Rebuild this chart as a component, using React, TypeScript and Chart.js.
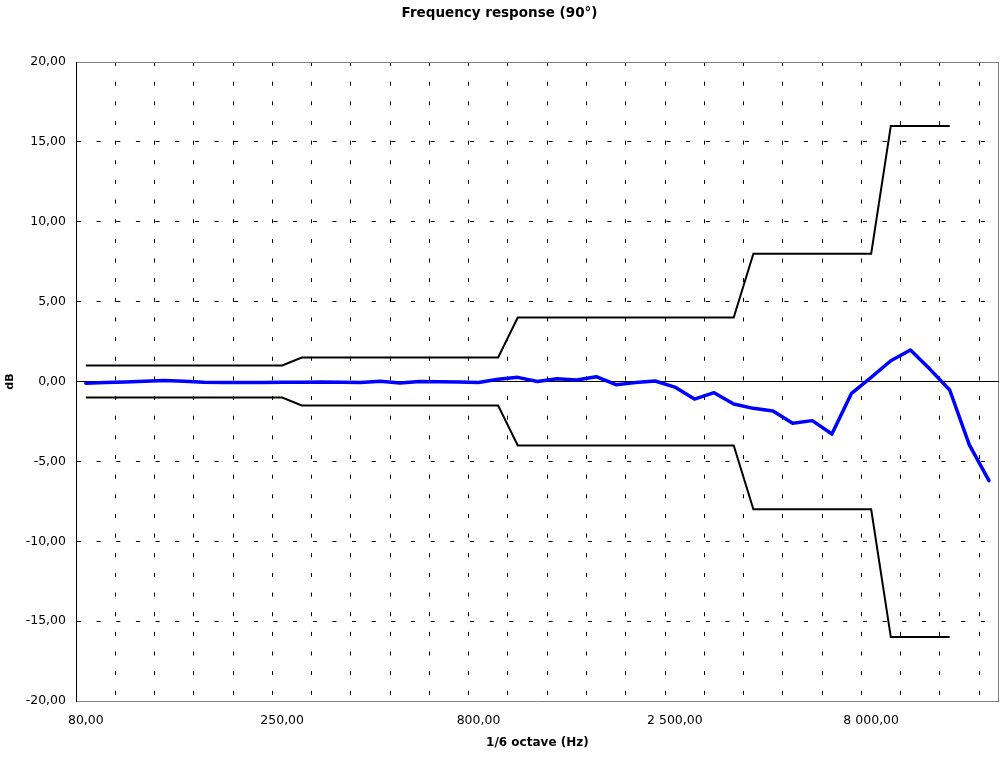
import React, { useEffect, useRef } from "react";
import { Chart, registerables } from "chart.js";

Chart.register(...registerables);

// 1/6 octave centre frequencies (Hz)
const FREQUENCIES = [
  80, 90, 100, 112, 125, 140, 160, 180, 200, 224,
  250, 280, 315, 355, 400, 450, 500, 560, 630, 710,
  800, 900, 1000, 1120, 1250, 1400, 1600, 1800, 2000, 2240,
  2500, 2800, 3150, 3550, 4000, 4500, 5000, 5600, 6300, 7100,
  8000, 9000, 10000, 11200, 12500, 14000, 16000,
];

// measured response (dB)
const MEASURED_DB = [
  -0.11, -0.07, -0.03, 0.01, 0.07, 0.02, -0.04, -0.06, -0.07, -0.07,
  -0.05, -0.05, -0.03, -0.04, -0.07, 0.02, -0.1, 0.0, -0.02, -0.03,
  -0.06, 0.14, 0.26, 0.0, 0.17, 0.1, 0.3, -0.2, -0.07, 0.03,
  -0.35, -1.1, -0.7, -1.41, -1.68, -1.85, -2.62, -2.45, -3.29, -0.74,
  0.26, 1.3, 1.97, 0.76, -0.53, -3.97, -6.21,
];

// tolerance limits (dB)
const UPPER_LIMIT_DB = [
  1, 1, 1, 1, 1, 1, 1, 1, 1, 1,
  1, 1.5, 1.5, 1.5, 1.5, 1.5, 1.5, 1.5, 1.5, 1.5,
  1.5, 1.5, 4, 4, 4, 4, 4, 4, 4, 4,
  4, 4, 4, 4, 8, 8, 8, 8, 8, 8,
  8, 16, 16, 16, 16, null, null,
];
const LOWER_LIMIT_DB = [
  -1, -1, -1, -1, -1, -1, -1, -1, -1, -1,
  -1, -1.5, -1.5, -1.5, -1.5, -1.5, -1.5, -1.5, -1.5, -1.5,
  -1.5, -1.5, -4, -4, -4, -4, -4, -4, -4, -4,
  -4, -4, -4, -4, -8, -8, -8, -8, -8, -8,
  -8, -16, -16, -16, -16, null, null,
];

const Y_MIN = -20;
const Y_MAX = 20;
const Y_STEP = 5;
const X_LABEL_EVERY = 10;
const X_GRID_EVERY = 2;

const TITLE = "Frequency response (90°)";
const X_TITLE = "1/6 octave (Hz)";
const Y_TITLE = "dB";

function fmt(v: number): string {
  const neg = v < 0 && Math.abs(v) > 1e-9;
  const [intPart, dec] = Math.abs(v).toFixed(2).split(".");
  const grouped = intPart.replace(/\B(?=(\d{3})+(?!\d))/g, " ");
  return (neg ? "-" : "") + grouped + "," + dec;
}

const FONT = "'DejaVu Sans', 'Liberation Sans', Arial, sans-serif";
const DASH = [4, 15.65];

export default function App() {
  const canvasRef = useRef<HTMLCanvasElement | null>(null);

  useEffect(() => {
    const canvas = canvasRef.current;
    if (!canvas) return;
    const chart = new Chart(canvas, {
      type: "line",
      data: {
        labels: FREQUENCIES.map((f) => String(f)),
        datasets: [
          {
            label: "Measured",
            data: MEASURED_DB,
            borderColor: "rgb(0,0,255)",
            borderWidth: 3.5,
            pointRadius: 0,
            tension: 0,
            borderJoinStyle: "round",
            borderCapStyle: "round",
          },
          {
            label: "Upper limit",
            data: UPPER_LIMIT_DB,
            borderColor: "#000000",
            borderWidth: 2,
            pointRadius: 0,
            tension: 0,
            spanGaps: false,
          },
          {
            label: "Lower limit",
            data: LOWER_LIMIT_DB,
            borderColor: "#000000",
            borderWidth: 2,
            pointRadius: 0,
            tension: 0,
            spanGaps: false,
          },
        ],
      },
      options: {
        responsive: false,
        animation: false,
        devicePixelRatio: 1,
        layout: { padding: { left: 0, right: 2, top: 0, bottom: 0 } },
        plugins: {
          legend: { display: false },
          tooltip: { enabled: false },
          title: {
            display: true,
            text: TITLE,
            color: "#000",
            font: { family: FONT, size: 13.5, weight: "bold" },
            padding: { top: 5, bottom: 40.8 },
          },
        },
        scales: {
          x: {
            type: "category",
            offset: true,
            grid: {
              offset: true,
              drawTicks: false,
              lineWidth: 1,
              color: (ctx: any) => {
                if (ctx.index === undefined) return "#808080";
                if (ctx.index > 0 && ctx.index % X_GRID_EVERY === 0) return "#000000";
                return "rgba(0,0,0,0)";
              },
            },
            border: {
              display: true,
              color: "#808080",
              width: 1,
              dash: (ctx: any) => (ctx.index === undefined ? [] : DASH),
            },
            ticks: {
              autoSkip: false,
              maxRotation: 0,
              minRotation: 0,
              padding: 12,
              color: "#000",
              font: { family: FONT, size: 12.5 },
              callback: (_v: any, index: number) =>
                index % X_LABEL_EVERY === 0 ? fmt(FREQUENCIES[index]) : "",
            },
            title: {
              display: true,
              text: X_TITLE,
              color: "#000",
              font: { family: FONT, size: 12, weight: "bold" },
              padding: { top: 0, bottom: 8 },
            },
            afterFit: (scale: any) => {
              scale.height = 57;
            },
          },
          y: {
            type: "linear",
            min: Y_MIN,
            max: Y_MAX,
            grid: {
              drawTicks: false,
              lineWidth: 1,
              color: (ctx: any) => {
                const v = ctx.tick ? ctx.tick.value : undefined;
                if (v === undefined) return "#000000";
                if (v === Y_MAX) return "#808080";
                if (v === Y_MIN) return "rgba(0,0,0,0)";
                return "#000000";
              },
            },
            border: {
              display: true,
              color: "#000000",
              width: 1,
              dash: (ctx: any) => {
                const v = ctx.tick ? ctx.tick.value : undefined;
                if (v === undefined || v === 0 || v === Y_MAX || v === Y_MIN) return [];
                return DASH;
              },
            },
            ticks: {
              stepSize: Y_STEP,
              padding: 10,
              color: "#000",
              font: { family: FONT, size: 12.5 },
              callback: (v: any) => fmt(Number(v)),
            },
            title: {
              display: true,
              text: Y_TITLE,
              color: "#000",
              font: { family: FONT, size: 11, weight: "bold" },
              padding: { top: 4, bottom: 0 },
            },
            afterFit: (scale: any) => {
              scale.width = 76;
            },
          },
        },
      },
    });
    return () => chart.destroy();
  }, []);

  return (
    <div style={{ position: "absolute", left: 0, top: 0, width: 1001, height: 758, background: "#fff" }}>
      <canvas ref={canvasRef} width={1001} height={758} style={{ display: "block", width: 1001, height: 758 }} />
    </div>
  );
}
